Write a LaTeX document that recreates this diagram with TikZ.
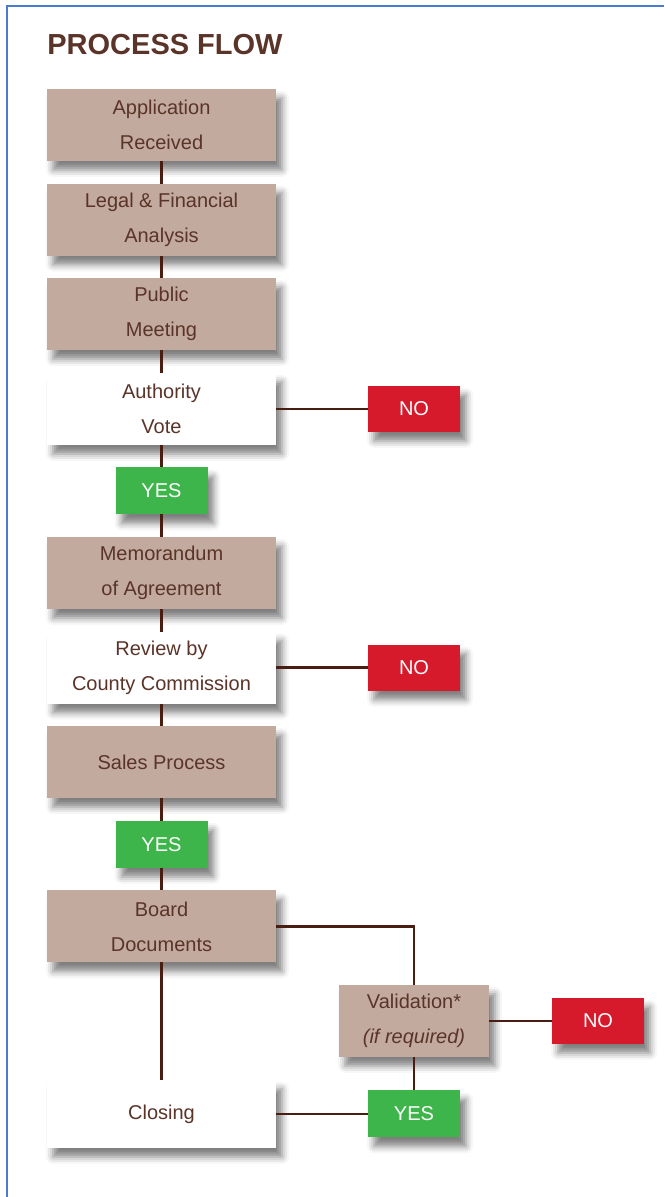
\documentclass[tikz,border=0pt]{standalone}
\usepackage{fontspec}
\setmainfont{Liberation Sans}
\usetikzlibrary{positioning, shadows.blur}
\definecolor{taupe}{HTML}{C3AA9E}
\definecolor{darkbrown}{HTML}{5A3428}
\definecolor{linebrown}{HTML}{4A1D12}
\definecolor{okgreen}{HTML}{3DB54A}
\definecolor{nored}{HTML}{D71A2B}
\definecolor{frameblue}{HTML}{4A7BD0}

\begin{document}
\begin{tikzpicture}[
        x=0.5pt, y=-0.5pt,
        font=\fontsize{10}{17.5}\selectfont, node distance=11.3pt,
        box/.style={minimum width=114.5pt, minimum height=36pt, align=center, inner sep=0pt, outer sep=0pt, text=darkbrown,
            blur shadow={shadow xshift=3pt, shadow yshift=-4.5pt, shadow blur radius=3.5pt, shadow opacity=50}},
        tbox/.style={box, fill=taupe},
        wbox/.style={box, fill=white},
        yesbox/.style={box, fill=okgreen, text=white, minimum width=46pt, minimum height=23.5pt},
        nobox/.style={box, fill=nored, text=white, minimum width=46pt, minimum height=23pt},
        conn/.style={draw=linebrown, line width=1.2pt}
    ]
        \useasboundingbox (0,0) rectangle (664,1197);
        \draw[frameblue, line width=1pt] (7,1197) -- (7,6) -- (664,6);

        \node[anchor=base west, inner sep=0pt, text=darkbrown, font=\fontsize{14.5}{17}\selectfont\bfseries] (title) at (47,55) {PROCESS FLOW};

        \node[tbox] (app) at (161.5,125) {Application\\Received};
        \node[tbox, below=of app]    (legal)  {Legal \& Financial\\Analysis};
        \node[tbox, below=of legal]  (pub)    {Public\\Meeting};
        \node[wbox, below=of pub]    (vote)   {Authority\\Vote};
        \node[yesbox, below=of vote] (yes1)   {YES};
        \node[tbox, below=of yes1]   (memo)   {Memorandum\\of Agreement};
        \node[wbox, below=of memo]   (review) {Review by\\County Commission};
        \node[tbox, below=of review] (sales)  {Sales Process};
        \node[yesbox, below=of sales] (yes2)  {YES};
        \node[tbox, below=of yes2]   (board)  {Board\\Documents};

        \node[nobox, right=46pt of vote]   (no1) {NO};
        \node[nobox, right=46pt of review] (no2) {NO};

        \node[tbox, minimum width=75pt, below right=11.25pt and 31.5pt of board] (valid) {Validation*\\\textit{(if required)}};
        \node[nobox, right=31.5pt of valid] (no3)   {NO};
        \node[yesbox, below=16.75pt of valid] (yes3) {YES};
        \node[wbox, minimum height=34pt, left=46pt of yes3] (close) {Closing};

        \draw[conn] (app) -- (legal);
        \draw[conn] (legal) -- (pub);
        \draw[conn] (pub) -- (vote);
        \draw[conn] (vote) -- (yes1);
        \draw[conn] (vote) -- (no1);
        \draw[conn] (yes1) -- (memo);
        \draw[conn] (memo) -- (review);
        \draw[conn] (review) -- (no2);
        \draw[conn] (review) -- (sales);
        \draw[conn] (sales) -- (yes2);
        \draw[conn] (yes2) -- (board);
        \draw[conn] (board.east) -| (valid.north);
        \draw[conn] (board) -- (close);
        \draw[conn] (valid) -- (no3);
        \draw[conn] (valid) -- (yes3);
        \draw[conn] (yes3) -- (close);
    \end{tikzpicture}
\end{document}
